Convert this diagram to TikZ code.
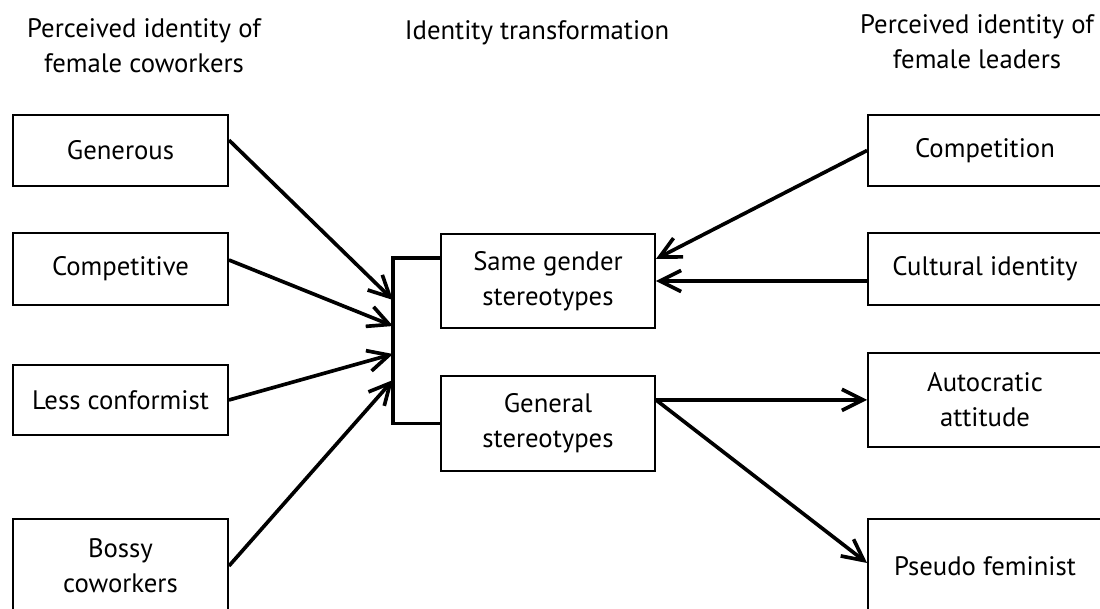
\documentclass[tikz,border=0pt]{standalone}
\usepackage{fontspec}
\setmainfont{PT Sans}
\usetikzlibrary{arrows.meta, positioning, calc}

\begin{document}
\begin{tikzpicture}[x=0.025cm, y=-0.025cm,
    box/.style={draw, line width=1.3pt, align=center, inner sep=0pt, font=\fontsize{19}{25}\selectfont},
    headtext/.style={align=center, font=\fontsize{19}{25}\selectfont},
    link/.style={line width=2.6pt, -{Straight Barb[length=15pt, width=15pt]}}]
        \useasboundingbox (0,0) rectangle (1100,609);

        % Column titles
        \node[headtext] (lefttitle) at (144,46) {Perceived identity of\\female coworkers};
        \node[headtext] (midtitle) at (537,33) {Identity transformation};
        \node[headtext] (righttitle) at (977,42) {Perceived identity of\\female leaders};

        % Coworker traits (left)
        \node[box, minimum width=5.375cm, minimum height=1.775cm] (generous) at (120.5,150.5) {Generous};
        \node[box, minimum width=5.375cm, minimum height=1.8cm] (competitive) at (120.5,269) {Competitive};
        \node[box, minimum width=5.375cm, minimum height=1.75cm] (lessconf) at (120.5,400) {Less conformist};
        \node[box, minimum width=5.375cm, minimum height=2.35cm] (bossy) at (120.5,566) {Bossy\\coworkers};

        % Transformation (middle)
        \node[box, minimum width=5.35cm, minimum height=2.35cm] (same) at (548,281) {Same gender\\stereotypes};
        \node[box, minimum width=5.35cm, minimum height=2.375cm] (general) at (548,423.5) {General\\stereotypes};

        % Leader traits (right)
        \node[box, minimum width=5.85cm, minimum height=1.775cm] (competition) at (985,150.5) {Competition};
        \node[box, minimum width=5.85cm, minimum height=1.8cm] (cultural) at (985,269) {Cultural identity};
        \node[box, minimum width=5.85cm, minimum height=2.35cm] (autocratic) at (985,400) {Autocratic\\attitude};
        \node[box, minimum width=5.85cm, minimum height=2.35cm] (pseudo) at (985,566) {Pseudo feminist};

        % Bracket joining the two middle boxes
        \coordinate (jtop) at (393,258);
        \coordinate (jbot) at (393,423.5);
        \draw[line width=2.6pt] (same.west |- jtop) -- (jtop) -- (jbot) -- (general.west);

        % Left arrows into the bracket
        \coordinate (in1) at (393,300);
        \coordinate (in2) at (393,326);
        \coordinate (in3) at (393,354);
        \coordinate (in4) at (393,380);
        \draw[link] ([yshift=0.26cm]generous.east) -- (in1);
        \draw[link] ([yshift=0.225cm]competitive.east) -- (in2);
        \draw[link] (lessconf.east) -- (in3);
        \draw[link] (bossy.east) -- (in4);

        % Right arrows into same gender
        \draw[link] (competition.west) -- ([yshift=0.55cm]same.east);
        \draw[link] (same.east -| cultural.west) -- (same.east);

        % General stereotypes out to leaders
        \coordinate (gout) at ([yshift=0.59cm]general.east);
        \draw[link] (gout) -- (gout -| autocratic.west);
        \draw[link] (gout) -- ([yshift=0.075cm]pseudo.west);
    \end{tikzpicture}
\end{document}
